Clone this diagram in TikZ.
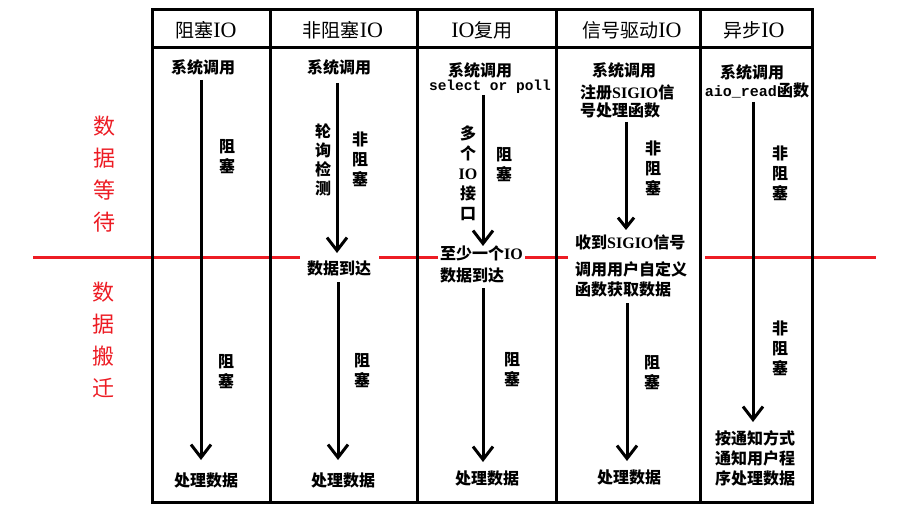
\documentclass[tikz,border=0pt]{standalone}
\usepackage{fontspec}
\setmainfont{Noto Sans CJK SC}
\newfontfamily\latserif{Liberation Serif}
\newfontfamily\latmono{Liberation Mono}
\newcommand\lsr[1]{{\latserif #1}}
\usetikzlibrary{arrows.meta}
\definecolor{redc}{RGB}{237,28,36}
\tikzset{
  hdr/.style={font=\fontsize{19}{22}\selectfont, inner sep=0pt},
  txt/.style={font=\bfseries\fontsize{16}{20}\selectfont, inner sep=0pt, align=left},
  vlab/.style={font=\bfseries\fontsize{16}{20}\selectfont, inner sep=0pt, align=center},
  redlab/.style={font=\fontsize{22}{32}\selectfont, text=redc, align=center, inner sep=0pt},
  cover/.style={fill=white, inner ysep=6pt},
  arr/.style={line width=3pt, -{Straight Barb[length=13pt,width=20pt,line width=3pt]}},
  arrsm/.style={line width=3pt, -{Straight Barb[length=10pt,width=16pt,line width=3pt]}},
  gridline/.style={line width=3pt, line cap=rect},
  redline/.style={line width=3pt, draw=redc},
}
\begin{document}
\begin{tikzpicture}[x=1pt,y=-1pt]
\useasboundingbox (0,0) rectangle (922,516);
\fill[white] (0,0) rectangle (922,516);

% red divider
\draw[redline] (33,257) -- (876,257);

% red phase labels
\node[redlab] (wait) at (104,174.5) {数\\据\\等\\待};
\node[redlab] (move) at (103,340) {数\\据\\搬\\迁};

% headers
\node[hdr] (h1) at (206,30) {阻塞\lsr{\fontsize{22}{22}\selectfont IO}};
\node[hdr] (h2) at (343,30) {非阻塞\lsr{\fontsize{22}{22}\selectfont IO}};
\node[hdr] (h3) at (482,30) {\lsr{\fontsize{22}{22}\selectfont IO}复用};
\node[hdr] (h4) at (632,30) {信号驱动\lsr{\fontsize{22}{22}\selectfont IO}};
\node[hdr] (h5) at (754,30) {异步\lsr{\fontsize{22}{22}\selectfont IO}};

% column 1
\node[txt] (s1) at (203,67) {系统调用};
\node[vlab] (b1a) at (227,157) {阻\\塞};
\node[vlab] (b1b) at (226,372) {阻\\塞};
\node[txt] (p1) at (206,480) {处理数据};

% column 2
\node[txt] (s2) at (339,67) {系统调用};
\node[vlab] (poll2) at (323,160) {轮\\[-1pt]询\\[-1pt]检\\[-1pt]测};
\node[vlab] (nb2) at (360,159) {非\\阻\\塞};
\node[txt, cover, inner xsep=7.5pt] (d2) at (339,268) {数据到达};
\node[vlab] (b2) at (362,371) {阻\\塞};
\node[txt] (p2) at (343,480) {处理数据};

% column 3
\node[txt] (s3) at (480,70) {系统调用};
\node[font=\latmono\bfseries\fontsize{14.5}{16}\selectfont, inner sep=0pt] (sel3) at (490,87) {select or poll};
\node[vlab] (m3) at (468,173) {多\\个\\\lsr{IO}\\接\\口};
\node[vlab] (b3a) at (504,165) {阻\\塞};
\node[txt, cover, inner xsep=2pt, anchor=west, font=\bfseries\fontsize{16}{22}\selectfont] (d3) at (438,264) {至少一个\lsr{IO}\\数据到达};
\node[vlab] (b3b) at (512,370) {阻\\塞};
\node[txt] (p3) at (487,478) {处理数据};

% column 4
\node[txt] (s4) at (624,70) {系统调用};
\node[txt, anchor=west, font=\bfseries\fontsize{16}{18}\selectfont] (r4) at (580,101) {注册\lsr{SIGIO}信\\号处理函数};
\node[vlab] (nb4) at (653,168) {非\\阻\\塞};
\node[txt, cover, anchor=west, inner xsep=7pt, text width=123pt] (g4) at (568,266) {收到\lsr{SIGIO}信号\\[7pt]调用用户自定义\\函数获取数据};
\node[vlab] (b4) at (652,373) {阻\\塞};
\node[txt] (p4) at (629,477) {处理数据};

% column 5
\node[txt] (s5) at (752,72) {系统调用};
\node[txt] (a5) at (757,90) {{\latmono\bfseries\fontsize{15}{16}\selectfont aio\_read}函数};
\node[vlab] (nb5a) at (780,173) {非\\阻\\塞};
\node[vlab] (nb5b) at (780,348) {非\\阻\\塞};
\node[txt] (n5) at (755,458) {按通知方式\\通知用户程\\序处理数据};

% table grid
\draw[gridline] (152,10) rectangle (812,502);
\draw[gridline] (152,48) -- (812,48);
\foreach \x in {270,417,556,700} \draw[gridline] (\x,10) -- (\x,502);

% arrow end points
\coordinate (c1s) at (201,80);  \coordinate (c1e) at (201,460);
\coordinate (c2s) at (337,83);  \coordinate (c2e) at (337,253);
\coordinate (c2t) at (338,282); \coordinate (c2f) at (338,460);
\coordinate (c3s) at (483,95);  \coordinate (c3e) at (483,246);
\coordinate (c3t) at (483,288); \coordinate (c3f) at (483,462);
\coordinate (c4s) at (626,122); \coordinate (c4e) at (626,230);
\coordinate (c4t) at (627,303); \coordinate (c4f) at (627,461);
\coordinate (c5s) at (753,102); \coordinate (c5e) at (753,422);

\draw[arr] (c1s) -- (c1e);
\draw[arr] (c2s) -- (c2e);
\draw[arr] (c2t) -- (c2f);
\draw[arr] (c3s) -- (c3e);
\draw[arr] (c3t) -- (c3f);
\draw[arrsm] (c4s) -- (c4e);
\draw[arr] (c4t) -- (c4f);
\draw[arr] (c5s) -- (c5e);
\end{tikzpicture}
\end{document}
